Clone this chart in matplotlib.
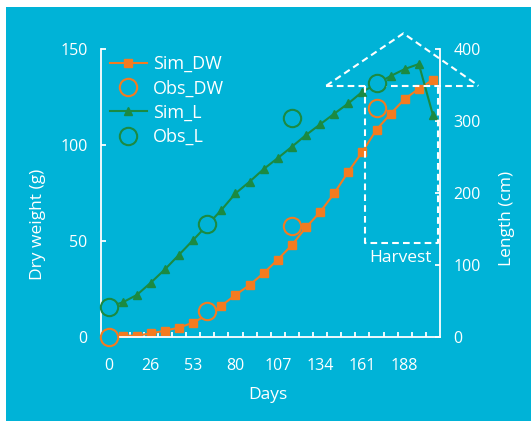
import matplotlib
matplotlib.use('Agg')
import matplotlib.pyplot as plt
from matplotlib.patches import Rectangle
from matplotlib.lines import Line2D

plt.rcParams['font.family'] = ['Open Sans', 'DejaVu Sans']

TEAL = '#00b3d7'
ORANGE = '#f47b20'
GREEN = '#1b8a42'
WHITE = 'white'

# one category per simulation step, labels on every third step
step = [0, 1, 2, 3, 4, 5, 6, 7, 8, 9, 10, 11, 12, 13, 14, 15, 16, 17, 18, 19, 20, 21, 22, 23]
label_steps = [0, 3, 6, 9, 12, 15, 18, 21]
day_labels = ['0', '26', '53', '80', '107', '134', '161', '188']

sim_dw = [0, 0.7, 0.7, 1.9, 3.3, 4.9, 7.5, 11.5, 16.3, 21.9, 27.1, 33.3,
          40.3, 47.9, 57.1, 65.1, 74.8, 86.1, 96.5, 108.0, 116.3, 124.0, 129.3, 134.0]
sim_l = [42, 48.1, 58.3, 75.5, 94.0, 114.3, 134.7, 155.5, 176.4, 199.5, 215.7, 233.3,
         248.6, 264.3, 280.6, 295.4, 310.2, 324.5, 340.7, 351.5, 362.5, 372.2, 379.2, 308.3]

obs_step = [0, 7, 13, 19]
obs_dw = [0, 13.5, 58.0, 119.2]
obs_l = [42.1, 156.9, 303.7, 353.2]

fig = plt.figure(figsize=(5.31, 4.21), dpi=100)
fig.patch.set_facecolor('white')
fig.add_artist(Rectangle((6 / 531, 0), 1, 1 - 7 / 421, transform=fig.transFigure,
                         facecolor=TEAL, edgecolor='none', zorder=0))

ax = fig.add_axes([0.1911, 0.1995, 0.6375, 0.684])
ax.patch.set_visible(False)
ax2 = ax.twinx()

l1, = ax.plot(step, sim_dw, color=ORANGE, lw=1.5, marker='s', ms=5.5, label='Sim_DW')
l2, = ax.plot(obs_step, obs_dw, ls='none', marker='o', ms=12.5, mfc=TEAL, mec=ORANGE,
              mew=1.5, label='Obs_DW', clip_on=False, zorder=3)
l3, = ax2.plot(step, sim_l, color=GREEN, lw=1.5, marker='^', ms=6, label='Sim_L')
l4, = ax2.plot(obs_step, obs_l, ls='none', marker='o', ms=12.5, mfc=TEAL, mec=GREEN,
               mew=1.5, label='Obs_L', clip_on=False, zorder=3)

ax.set_xlim(-0.5, 23.5)
ax.set_ylim(0, 150)
ax2.set_ylim(0, 400)
ax.set_xticks(label_steps)
ax.set_xticklabels(day_labels)
ax.set_xticks([k + 0.5 for k in range(23)], minor=True)
ax.set_yticks([0, 50, 100, 150])
ax2.set_yticks([0, 100, 200, 300, 400])

ax.tick_params(axis='x', which='major', length=0, pad=15, labelsize=11.5, labelcolor=WHITE)
ax.tick_params(axis='x', which='minor', length=3.6, width=1.3, direction='in', color=WHITE)
ax.tick_params(axis='y', length=3.6, width=1.3, direction='in', color=WHITE,
               pad=10, labelsize=11.5, labelcolor=WHITE)
ax2.tick_params(axis='y', length=3.6, width=1.3, direction='in', color=WHITE,
                pad=9.5, labelsize=11.5, labelcolor=WHITE)

for a in (ax, ax2):
    for s in a.spines.values():
        s.set_visible(False)
        s.set_color(WHITE)
        s.set_linewidth(1.3)
ax.spines['left'].set_visible(True)
ax.spines['bottom'].set_visible(True)
ax2.spines['right'].set_visible(True)

ax.set_xlabel('Days', fontsize=12.5, color=WHITE, va='center')
ax.xaxis.set_label_coords(0.491, -0.201)
ax.set_ylabel('Dry weight (g)', fontsize=12.5, color=WHITE, va='center')
ax.yaxis.set_label_coords(-0.187, 0.392)
ax2.set_ylabel('Length (cm)', fontsize=12.5, color=WHITE, va='center')
ax2.yaxis.set_label_coords(1.197, 0.412)

ax2.legend(handles=[l1, l2, l3, l4], loc='upper left', bbox_to_anchor=(0.025, 0.979),
           frameon=False, borderpad=0, borderaxespad=0, handlelength=2.05,
           handletextpad=0.33, labelspacing=0.35, fontsize=13, labelcolor=WHITE)

# harvest marker drawn in axes fractions
dash = dict(color=WHITE, lw=1.5, ls=(0, (3.2, 2)), transform=ax.transAxes, clip_on=False)
ax2.add_line(Line2D([0.664, 0.892, 1.1137], [0.8726, 1.0545, 0.8726], **dash))
ax2.add_line(Line2D([0.664, 1.1137], [0.8726, 0.8726], **dash))
ax2.add_line(Line2D([0.7784, 0.7784, 0.995, 0.995], [0.8726, 0.3253, 0.3253, 0.8726], **dash))
ax2.text(0.883, 0.276, 'Harvest', transform=ax.transAxes, ha='center', va='center',
         fontsize=12.5, color=WHITE)

fig.savefig('out.png', dpi=100, facecolor=fig.get_facecolor())
